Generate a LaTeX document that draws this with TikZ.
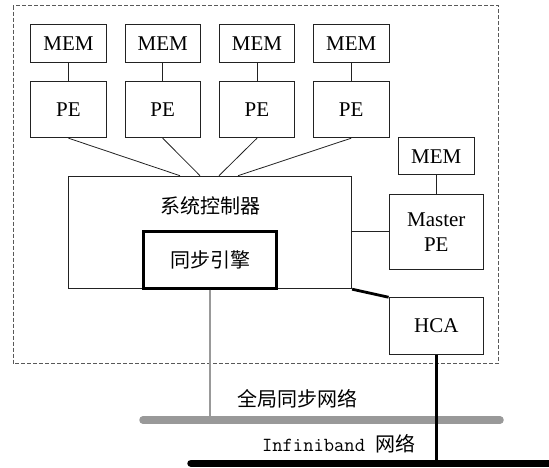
\documentclass[tikz,border=0pt]{standalone}
\usepackage{fontspec}
\setmainfont{Liberation Serif}
\newfontfamily\cjk{Noto Sans CJK SC}
\definecolor{linec}{HTML}{222222}
\definecolor{busgray}{HTML}{999999}
\begin{document}
\begin{tikzpicture}[x=1pt,y=-1pt,
  txt/.style={font=\fontsize{21}{25}\selectfont},
  box/.style={draw=linec, line width=0.9pt, inner sep=0pt, txt},
  memb/.style={box, minimum width=75.5pt, minimum height=37.3pt},
  peb/.style={box, minimum width=75.5pt, minimum height=56.7pt},
  thin/.style={draw=linec, line width=0.8pt},
  cjkt/.style={font=\cjk\fontsize{20}{24}\selectfont}
]
\useasboundingbox (0,0) rectangle (549,468);
% frame
\draw[draw=black!65, line width=0.9pt, dash pattern=on 4pt off 2pt] (13,5.7) rectangle (498.7,363.3);
% MEM & PE
\foreach \i/\x in {1/68.5,2/162.7,3/257,4/351.2}{
  \node[memb] (mem\i) at (\x,43.6) {MEM};
  \node[peb] (pe\i) at (\x,109.4) {PE};
  \draw[thin] (mem\i.south) -- (pe\i.north);
}
% controller
\node[box, minimum width=282.9pt, minimum height=112.6pt, anchor=north west] (ctrl) at (68.3,175.7) {};
\node[cjkt] (ctrltxt) at (210,206) {系统控制器};
\node[draw=black, line width=2.8pt, inner sep=0pt, minimum width=133pt, minimum height=56.6pt, cjkt] (sync) at (210,260) {同步引擎};
% PE to controller
\coordinate (c1) at (180,175.7);
\coordinate (c2) at (200,175.7);
\coordinate (c3) at (219,175.7);
\coordinate (c4) at (238,175.7);
\foreach \i in {1,...,4}{\draw[thin] (pe\i.south) -- (c\i);}
% master
\node[memb] (mmem) at (436.3,156.2) {MEM};
\node[box, minimum width=94.5pt, minimum height=75pt, align=center, font=\fontsize{21}{25}\selectfont] (mpe) at (436.3,231.8) {Master\\PE};
\draw[thin] (mmem.south) -- (mpe.north);
\draw[thin] (ctrl.east |- mpe.west) -- (mpe.west);
% HCA
\node[box, minimum width=94.5pt, minimum height=56.6pt] (hca) at (436.3,326) {HCA};
\draw[line width=2.8pt, black] (ctrl.south east) -- (hca.north west);
% global sync net
\coordinate (gbl) at (143,420);
\coordinate (gbr) at (500,420);
\coordinate (gbj) at (210,420);
\draw[busgray, line width=2.8pt] (sync.south) -- (gbj);
\draw[busgray, line width=7.5pt, line cap=round] (gbl) -- (gbr);
\node[cjkt] (gtxt) at (297.6,398.3) {全局同步网络};
% infiniband
\coordinate (ibl) at (191,463.3);
\coordinate (ibr) at (565,463.3);
\coordinate (ibj) at (436.3,463.3);
\draw[black, line width=3.2pt] (hca.south) -- (ibj);
\draw[black, line width=7.5pt, line cap=round] (ibl) -- (ibr);
\node[font=\fontsize{20}{24}\selectfont] (itxt) at (338.7,443.3) {\ttfamily Infiniband \cjk 网络};
\end{tikzpicture}
\end{document}
